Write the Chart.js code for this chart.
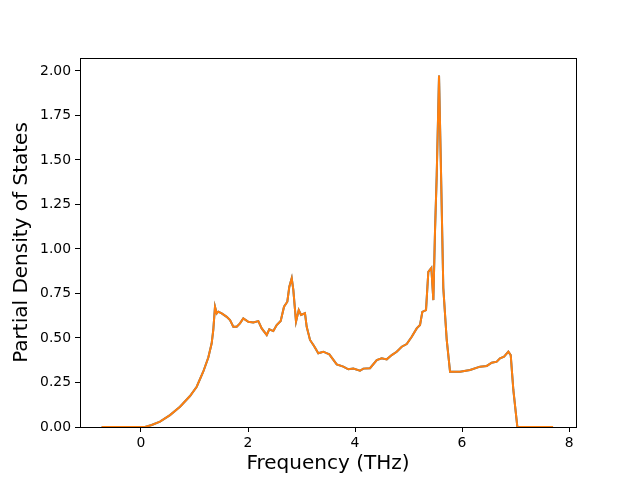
<!DOCTYPE html>
<html>
<head>
<meta charset="utf-8">
<script src="https://cdn.jsdelivr.net/npm/chart.js@4"></script>
<style>
  body { margin: 0; background: #fff; }
</style>
</head>
<body>
<canvas id="chart" width="640" height="480"></canvas>
<script>
// frequency (THz) and partial DOS
const freqs = [-0.735, 0.075, 0.20, 0.355, 0.542, 0.729, 0.916, 1.041, 1.165, 1.258, 1.321, 1.351, 1.383,
    1.415, 1.445, 1.508, 1.602, 1.664, 1.725, 1.789, 1.850, 1.912, 2.006, 2.099, 2.193, 2.256, 2.350,
    2.398, 2.473, 2.536, 2.611, 2.673, 2.735, 2.772, 2.817, 2.847, 2.897, 2.948, 2.991, 3.065, 3.097,
    3.159, 3.234, 3.314, 3.407, 3.520, 3.658, 3.781, 3.875, 3.968, 4.093, 4.155, 4.280, 4.406, 4.499,
    4.593, 4.686, 4.779, 4.873, 4.966, 5.060, 5.153, 5.215, 5.258, 5.327, 5.370, 5.426, 5.464, 5.495,
    5.527, 5.570, 5.602, 5.650, 5.714, 5.776, 5.963, 6.150, 6.336, 6.462, 6.555, 6.649, 6.710, 6.785,
    6.866, 6.910, 6.959, 7.034, 7.701];
const pdos = [0, 0, 0.011, 0.030, 0.067, 0.114, 0.174, 0.226, 0.312, 0.390, 0.470, 0.545, 0.676,
    0.638, 0.648, 0.638, 0.619, 0.601, 0.563, 0.563, 0.582, 0.610, 0.591, 0.587, 0.595, 0.554, 0.517,
    0.549, 0.539, 0.573, 0.596, 0.676, 0.704, 0.788, 0.836, 0.770, 0.592, 0.657, 0.629, 0.639, 0.563,
    0.489, 0.455, 0.414, 0.423, 0.408, 0.352, 0.339, 0.324, 0.328, 0.316, 0.328, 0.330, 0.376, 0.386,
    0.380, 0.404, 0.423, 0.451, 0.466, 0.507, 0.554, 0.573, 0.647, 0.657, 0.871, 0.893, 0.713, 1.101,
    1.416, 1.975, 1.511, 0.781, 0.489, 0.311, 0.311, 0.320, 0.339, 0.343, 0.361, 0.367, 0.386, 0.395,
    0.423, 0.404, 0.208, 0, 0];
const xTicks = [0, 2, 4, 6, 8];
const yTicks = [0, 0.25, 0.5, 0.75, 1.0, 1.25, 1.5, 1.75, 2.0];

const points = freqs.map((f, i) => ({ x: f, y: pdos[i] }));
const font = "DejaVu Sans";

// box around the plot area, like matplotlib spines
const frame = {
    id: "frame",
    afterDraw(chart) {
        const { left, top, right, bottom } = chart.chartArea;
        const ctx = chart.ctx;
        ctx.save();
        ctx.strokeStyle = "#000";
        ctx.lineWidth = 1;
        ctx.strokeRect(Math.round(left) + 0.5, Math.round(top) + 0.5,
            Math.round(right - left), Math.round(bottom - top));
        ctx.restore();
    },
};

new Chart(document.getElementById("chart").getContext("2d"), {
    type: "scatter",
    data: {
        datasets: [
            {
                data: points,
                showLine: true,
                borderColor: "#ff7f0e",
                borderWidth: 2,
                pointRadius: 0,
                tension: 0,
                order: 0,
            },
            {
                data: points,
                showLine: true,
                borderColor: "#1f77b4",
                borderWidth: 2,
                pointRadius: 0,
                tension: 0,
                order: 1,
            },
        ],
    },
    options: {
        responsive: false,
        animation: false,
        layout: { padding: { left: 0, top: 58, right: 64, bottom: 0 } },
        plugins: {
            legend: { display: false },
            tooltip: { enabled: false },
        },
        scales: {
            x: {
                type: "linear",
                min: -1.14,
                max: 8.13,
                afterBuildTicks: (s) => { s.ticks = xTicks.map(v => ({ value: v })); },
                afterFit: (s) => { s.height = 53; },
                grid: { drawOnChartArea: false, drawTicks: true, tickLength: 5, color: "#000" },
                border: { display: true, color: "#000" },
                ticks: { color: "#000", padding: 3, font: { family: font, size: 13.9 }, maxRotation: 0 },
                title: {
                    display: true,
                    text: "Frequency (THz)",
                    color: "#000",
                    font: { family: font, size: 20 },
                    padding: { top: 0, bottom: 4 },
                },
            },
            y: {
                type: "linear",
                min: 0,
                max: 2.073,
                afterBuildTicks: (s) => { s.ticks = yTicks.map(v => ({ value: v })); },
                afterFit: (s) => { s.width = 80; },
                grid: { drawOnChartArea: false, drawTicks: true, tickLength: 5, color: "#000" },
                border: { display: true, color: "#000" },
                ticks: {
                    color: "#000",
                    padding: 4,
                    font: { family: font, size: 13.9 },
                    callback: (v) => Number(v).toFixed(2),
                },
                title: {
                    display: true,
                    text: "Partial Density of States",
                    color: "#000",
                    font: { family: font, size: 20 },
                    padding: { top: 10, bottom: 0 },
                },
            },
        },
    },
    plugins: [frame],
});
</script>
</body>
</html>
